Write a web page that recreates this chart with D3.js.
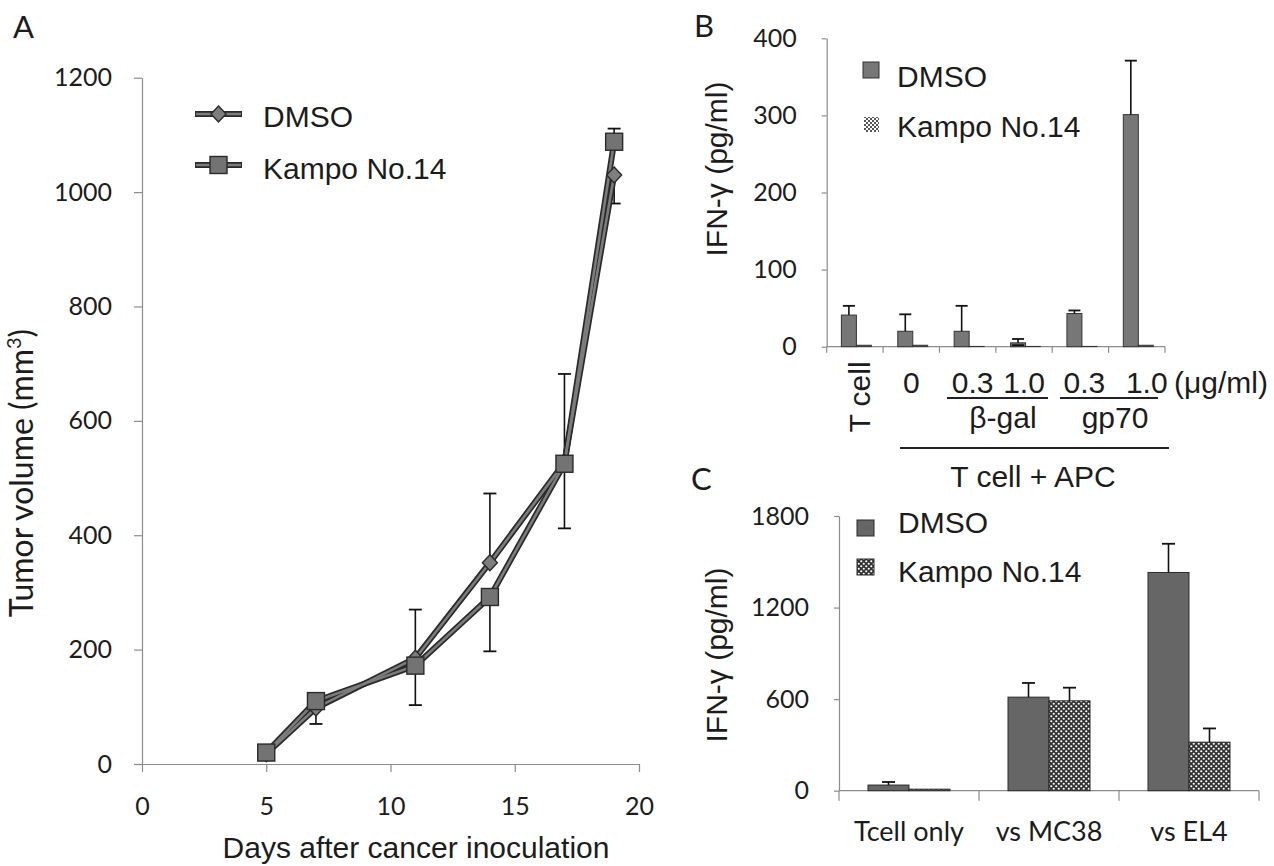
<!DOCTYPE html>
<html><head><meta charset="utf-8">
<script src="https://cdn.jsdelivr.net/npm/d3@7"></script>
<style>
html,body{margin:0;padding:0;background:#fff;}
svg{display:block;}
</style></head>
<body>
<svg id="chart" width="1274" height="866"></svg>
<script>
// ---------- Panel A data ----------
const daysA = [5, 7, 11, 14, 17, 19];
const dmsoA = [18, 98, 185, 352, 527, 1030];
const dmsoA_errUp = [0, 0, 85, 121, 155, 0];
const dmsoA_errDown = [0, 28, 0, 0, 0, 50];
const kampoA = [20, 110, 172, 292, 525, 1088];
const kampoA_errUp = [0, 0, 0, 0, 0, 23];
const kampoA_errDown = [0, 0, 69, 95, 113, 0];
const yTicksA = [0, 200, 400, 600, 800, 1000, 1200];
const xTicksA = [0, 5, 10, 15, 20];

// ---------- Panel B data ----------
const catsB = ["T cell", "0", "β-gal 0.3", "β-gal 1.0", "gp70 0.3", "gp70 1.0"];
const dmsoB = [41, 20, 20, 5, 43, 301];
const dmsoB_err = [12, 22, 33, 5, 4, 70];
const kampoB = [2, 2, 0.5, 0.5, 0.5, 2];
const yTicksB = [0, 100, 200, 300, 400];
const doseLabelsB = ["0", "0.3", "1.0", "0.3", "1.0"];

// ---------- Panel C data ----------
const catsC = ["Tcell only", "vs MC38", "vs EL4"];
const dmsoC = [37, 613, 1430];
const dmsoC_err = [20, 93, 188];
const kampoC = [10, 589, 318];
const kampoC_err = [0, 86, 90];
const yTicksC = [0, 600, 1200, 1800];

const seriesNames = ["DMSO", "Kampo No.14"];

const svg = d3.select("#chart");
const ARIAL = "'Liberation Sans', Arial, sans-serif";
const CALI = "Lato, 'Open Sans', sans-serif";
const INK = "#1c1c1c";
const AXC = "#8c8c8c";
const fmt = d3.format("d");

// pattern for Kampo bars
const defs = svg.append("defs");
const pat = defs.append("pattern").attr("id", "chk").attr("patternUnits", "userSpaceOnUse")
  .attr("width", 5).attr("height", 5);
pat.append("rect").attr("width", 5).attr("height", 5).attr("fill", "#333");
pat.append("circle").attr("cx", 1.25).attr("cy", 1.25).attr("r", 1.1).attr("fill", "#fff");
pat.append("circle").attr("cx", 3.75).attr("cy", 3.75).attr("r", 1.1).attr("fill", "#fff");

const patL = defs.append("pattern").attr("id", "chkL").attr("patternUnits", "userSpaceOnUse")
  .attr("width", 4).attr("height", 4);
patL.append("rect").attr("width", 4).attr("height", 4).attr("fill", "#fff");
patL.append("rect").attr("x", 0).attr("y", 0).attr("width", 2).attr("height", 2).attr("fill", "#555");
patL.append("rect").attr("x", 2).attr("y", 2).attr("width", 2).attr("height", 2).attr("fill", "#555");

function styleAxis(g, fontFam, fontSize) {
  g.select(".domain").attr("stroke", AXC).attr("stroke-width", 1.2);
  g.selectAll(".tick line").attr("stroke", AXC).attr("stroke-width", 1.2);
  g.selectAll(".tick text").attr("fill", INK).style("font-family", fontFam).style("font-size", fontSize + "px");
}

// ================= Panel A =================
const xA = d3.scaleLinear().domain([0, 20]).range([142, 639]);
const yA = d3.scaleLinear().domain([0, 1200]).range([764, 77.7]);

svg.append("text").attr("x", 13).attr("y", 38).text("A")
  .style("font-family", CALI).style("font-size", "31px").attr("fill", INK);

const gAy = svg.append("g").attr("transform", `translate(${xA(0)},0)`)
  .call(d3.axisLeft(yA).tickValues(yTicksA).tickFormat(fmt).tickSize(8).tickPadding(22).tickSizeOuter(0));
styleAxis(gAy, CALI, 25);
const gAx = svg.append("g").attr("transform", `translate(0,${yA(0)})`)
  .call(d3.axisBottom(xA).tickValues(xTicksA).tickFormat(fmt).tickSize(8).tickPadding(25).tickSizeOuter(0));
styleAxis(gAx, CALI, 25);

// axis titles
const tA = svg.append("text").attr("transform", `translate(33,473) rotate(-90)`)
  .attr("text-anchor", "middle").attr("fill", INK)
  .style("font-family", CALI).style("font-size", "32px");
tA.append("tspan").text("Tumor volume (mm");
tA.append("tspan").text("3").attr("baseline-shift", "super").style("font-size", "20px");
tA.append("tspan").text(")");
svg.append("text").attr("x", 416).attr("y", 858).attr("text-anchor", "middle").attr("fill", INK)
  .style("font-family", ARIAL).style("font-size", "30px").text("Days after cancer inoculation");

function drawSeriesA(vals, up, down) {
  const pts = daysA.map((d, i) => [xA(d), yA(vals[i])]);
  daysA.forEach((d, i) => {
    const x = xA(d);
    [[up[i], 1], [down[i], -1]].forEach(([e, s]) => {
      if (e <= 0) return;
      const yE = yA(vals[i] + s * e);
      svg.append("line").attr("x1", x).attr("x2", x).attr("y1", yA(vals[i])).attr("y2", yE)
        .attr("stroke", "#111").attr("stroke-width", 1.6);
      svg.append("line").attr("x1", x - 6.5).attr("x2", x + 6.5).attr("y1", yE).attr("y2", yE)
        .attr("stroke", "#111").attr("stroke-width", 1.8);
    });
  });
  return pts;
}
const ptsD = drawSeriesA(dmsoA, dmsoA_errUp, dmsoA_errDown);
const ptsK = drawSeriesA(kampoA, kampoA_errUp, kampoA_errDown);
[ptsD, ptsK].forEach(pts => {
  svg.append("path").attr("d", d3.line()(pts)).attr("fill", "none").attr("stroke", "#2a2a2a").attr("stroke-width", 6).attr("stroke-linejoin", "round");
});
[ptsD, ptsK].forEach(pts => {
  svg.append("path").attr("d", d3.line()(pts)).attr("fill", "none").attr("stroke", "#7c7c7c").attr("stroke-width", 2.6).attr("stroke-linejoin", "round");
});
function diamond(x, y) {
  svg.append("path").attr("d", `M${x},${y - 8}L${x + 7.5},${y}L${x},${y + 8}L${x - 7.5},${y}Z`)
    .attr("fill", "#7e7e7e").attr("stroke", "#2a2a2a").attr("stroke-width", 1.4);
}
function square(x, y) {
  svg.append("rect").attr("x", x - 8.5).attr("y", y - 8.5).attr("width", 17).attr("height", 17)
    .attr("fill", "#737373").attr("stroke", "#2a2a2a").attr("stroke-width", 1.4);
}
ptsD.forEach(p => diamond(p[0], p[1]));
ptsK.forEach(p => square(p[0], p[1]));

// legend A
[[114, diamond, seriesNames[0], 127], [165, square, seriesNames[1], 179]].forEach(([ly, mk, name, bl]) => {
  svg.append("line").attr("x1", 195).attr("x2", 242).attr("y1", ly).attr("y2", ly).attr("stroke", "#2a2a2a").attr("stroke-width", 6);
  svg.append("line").attr("x1", 196).attr("x2", 241).attr("y1", ly).attr("y2", ly).attr("stroke", "#7c7c7c").attr("stroke-width", 2.6);
  mk(218.5, ly);
  svg.append("text").attr("x", 263).attr("y", bl).text(name).attr("fill", INK)
    .style("font-family", ARIAL).style("font-size", "30px");
});

// ================= Panel B =================
const xB = d3.scaleBand().domain(catsB).range([826.7, 1165]);
const yB = d3.scaleLinear().domain([0, 400]).range([346.7, 38.3]);
const bwB = 15;

svg.append("text").attr("x", 694).attr("y", 37).text("B")
  .style("font-family", CALI).style("font-size", "31px").attr("fill", INK);

const gBy = svg.append("g").attr("transform", `translate(${xB.range()[0]},0)`)
  .call(d3.axisLeft(yB).tickValues(yTicksB).tickFormat(fmt).tickSize(5).tickPadding(25).tickSizeOuter(0));
styleAxis(gBy, CALI, 25);
svg.append("line").attr("x1", xB.range()[0]).attr("x2", xB.range()[1]).attr("y1", yB(0)).attr("y2", yB(0))
  .attr("stroke", AXC).attr("stroke-width", 1.2);
catsB.concat(["__end"]).forEach((c, i) => {
  const x = i < catsB.length ? xB(c) : xB.range()[1];
  svg.append("line").attr("x1", x).attr("x2", x).attr("y1", yB(0)).attr("y2", yB(0) + 6)
    .attr("stroke", AXC).attr("stroke-width", 1.2);
});

catsB.forEach((c, i) => {
  const x0 = xB(c) + (xB.bandwidth() - 2 * bwB) / 2 + 1.5;
  svg.append("rect").attr("x", x0).attr("y", yB(dmsoB[i])).attr("width", bwB).attr("height", yB(0) - yB(dmsoB[i]))
    .attr("fill", "#777").attr("stroke", "#333").attr("stroke-width", 1);
  svg.append("rect").attr("x", x0 + bwB).attr("y", yB(kampoB[i])).attr("width", bwB).attr("height", yB(0) - yB(kampoB[i]))
    .attr("fill", "#444").attr("stroke", "#333").attr("stroke-width", 0.8);
  const xm = x0 + bwB / 2;
  const top = yB(dmsoB[i] + dmsoB_err[i]);
  svg.append("line").attr("x1", xm).attr("x2", xm).attr("y1", yB(dmsoB[i])).attr("y2", top).attr("stroke", "#111").attr("stroke-width", 1.6);
  svg.append("line").attr("x1", xm - 6).attr("x2", xm + 6).attr("y1", top).attr("y2", top).attr("stroke", "#111").attr("stroke-width", 1.8);
  if (i === 3) {
    const bot = yB(dmsoB[i] - dmsoB_err[i]) - 1.5;
    svg.append("line").attr("x1", xm - 6).attr("x2", xm + 6).attr("y1", bot).attr("y2", bot).attr("stroke", "#111").attr("stroke-width", 1.8);
  }
});

svg.append("text").attr("transform", `translate(727,169) rotate(-90)`).attr("text-anchor", "middle").attr("fill", INK)
  .style("font-family", ARIAL).style("font-size", "30px").text("IFN-γ (pg/ml)");

// legend B
svg.append("rect").attr("x", 863).attr("y", 62).attr("width", 16).attr("height", 16).attr("fill", "#777").attr("stroke", "#333");
svg.append("rect").attr("x", 864).attr("y", 117).attr("width", 15).attr("height", 15).attr("fill", "url(#chkL)");
svg.append("text").attr("x", 897).attr("y", 87).text(seriesNames[0]).attr("fill", INK).style("font-family", ARIAL).style("font-size", "30px");
svg.append("text").attr("x", 897).attr("y", 137).text(seriesNames[1]).attr("fill", INK).style("font-family", ARIAL).style("font-size", "30px");

// x labels B
svg.append("text").attr("transform", `translate(870,397) rotate(-90)`).attr("text-anchor", "middle").attr("fill", INK)
  .style("font-family", ARIAL).style("font-size", "30px").text(catsB[0]);
const doseX = [xB(catsB[1]) + xB.bandwidth() / 2, xB(catsB[2]) + xB.bandwidth() / 2 + 5,
  xB(catsB[3]) + xB.bandwidth() / 2, xB(catsB[4]) + xB.bandwidth() / 2 + 4, xB(catsB[5]) + xB.bandwidth() / 2 + 10];
doseLabelsB.forEach((t, i) => {
  svg.append("text").attr("x", doseX[i]).attr("y", 393).attr("text-anchor", "middle").attr("fill", INK)
    .style("font-family", ARIAL).style("font-size", "30px").text(t);
});
svg.append("text").attr("x", 1174).attr("y", 393).attr("fill", INK)
  .style("font-family", ARIAL).style("font-size", "30px").text("(μg/ml)");
svg.append("line").attr("x1", 947).attr("x2", 1048).attr("y1", 398).attr("y2", 398).attr("stroke", "#222").attr("stroke-width", 2);
svg.append("line").attr("x1", 1060).attr("x2", 1158).attr("y1", 398).attr("y2", 398).attr("stroke", "#222").attr("stroke-width", 2);
svg.append("text").attr("x", 1003).attr("y", 428).attr("text-anchor", "middle").attr("fill", INK)
  .style("font-family", ARIAL).style("font-size", "30px").text("β-gal");
svg.append("text").attr("x", 1115).attr("y", 428).attr("text-anchor", "middle").attr("fill", INK)
  .style("font-family", ARIAL).style("font-size", "30px").text("gp70");
svg.append("line").attr("x1", 900).attr("x2", 1169).attr("y1", 448).attr("y2", 448).attr("stroke", "#222").attr("stroke-width", 2);
svg.append("text").attr("x", 1033).attr("y", 487).attr("text-anchor", "middle").attr("fill", INK)
  .style("font-family", ARIAL).style("font-size", "30px").text("T cell + APC");

// ================= Panel C =================
const xC = d3.scaleBand().domain(catsC).range([839, 1259]);
const yC = d3.scaleLinear().domain([0, 1800]).range([790.7, 516]);
const bwC = 41;

svg.append("text").attr("x", 691).attr("y", 490).text("C")
  .style("font-family", CALI).style("font-size", "31px").attr("fill", INK);

const gCy = svg.append("g").attr("transform", `translate(${xC.range()[0]},0)`)
  .call(d3.axisLeft(yC).tickValues(yTicksC).tickFormat(fmt).tickSize(5).tickPadding(25).tickSizeOuter(0));
styleAxis(gCy, CALI, 25);
svg.append("line").attr("x1", xC.range()[0]).attr("x2", xC.range()[1]).attr("y1", yC(0)).attr("y2", yC(0))
  .attr("stroke", AXC).attr("stroke-width", 1.2);
catsC.concat(["__end"]).forEach((c, i) => {
  const x = i < catsC.length ? xC(c) : xC.range()[1];
  svg.append("line").attr("x1", x).attr("x2", x).attr("y1", yC(0)).attr("y2", yC(0) + 10)
    .attr("stroke", AXC).attr("stroke-width", 1.2);
});
catsC.forEach((c, i) => {
  const x0 = xC(c) + (xC.bandwidth() - 2 * bwC) / 2;
  svg.append("rect").attr("x", x0).attr("y", yC(dmsoC[i])).attr("width", bwC).attr("height", yC(0) - yC(dmsoC[i]))
    .attr("fill", "#666").attr("stroke", "#2a2a2a").attr("stroke-width", 1);
  svg.append("rect").attr("x", x0 + bwC).attr("y", yC(kampoC[i])).attr("width", bwC).attr("height", yC(0) - yC(kampoC[i]))
    .attr("fill", "url(#chk)").attr("stroke", "#2a2a2a").attr("stroke-width", 1);
  [[dmsoC[i], dmsoC_err[i], x0 + bwC / 2], [kampoC[i], kampoC_err[i], x0 + bwC * 1.5]].forEach(([v, e, xm]) => {
    if (e <= 0) return;
    const top = yC(v + e);
    svg.append("line").attr("x1", xm).attr("x2", xm).attr("y1", yC(v)).attr("y2", top).attr("stroke", "#111").attr("stroke-width", 1.6);
    svg.append("line").attr("x1", xm - 6.5).attr("x2", xm + 6.5).attr("y1", top).attr("y2", top).attr("stroke", "#111").attr("stroke-width", 1.8);
  });
  svg.append("text").attr("x", xC(c) + xC.bandwidth() / 2).attr("y", 841).attr("text-anchor", "middle").attr("fill", INK)
    .style("font-family", CALI).style("font-size", "27px").text(c);
});
svg.append("text").attr("transform", `translate(727,655) rotate(-90)`).attr("text-anchor", "middle").attr("fill", INK)
  .style("font-family", ARIAL).style("font-size", "30px").text("IFN-γ (pg/ml)");
// legend C
svg.append("rect").attr("x", 857).attr("y", 520).attr("width", 17).attr("height", 16).attr("fill", "#666").attr("stroke", "#2a2a2a");
svg.append("rect").attr("x", 857).attr("y", 559).attr("width", 17).attr("height", 16).attr("fill", "url(#chk)").attr("stroke", "#2a2a2a");
svg.append("text").attr("x", 898).attr("y", 533).text(seriesNames[0]).attr("fill", INK).style("font-family", ARIAL).style("font-size", "30px");
svg.append("text").attr("x", 898).attr("y", 582).text(seriesNames[1]).attr("fill", INK).style("font-family", ARIAL).style("font-size", "30px");
</script>
</body></html>
